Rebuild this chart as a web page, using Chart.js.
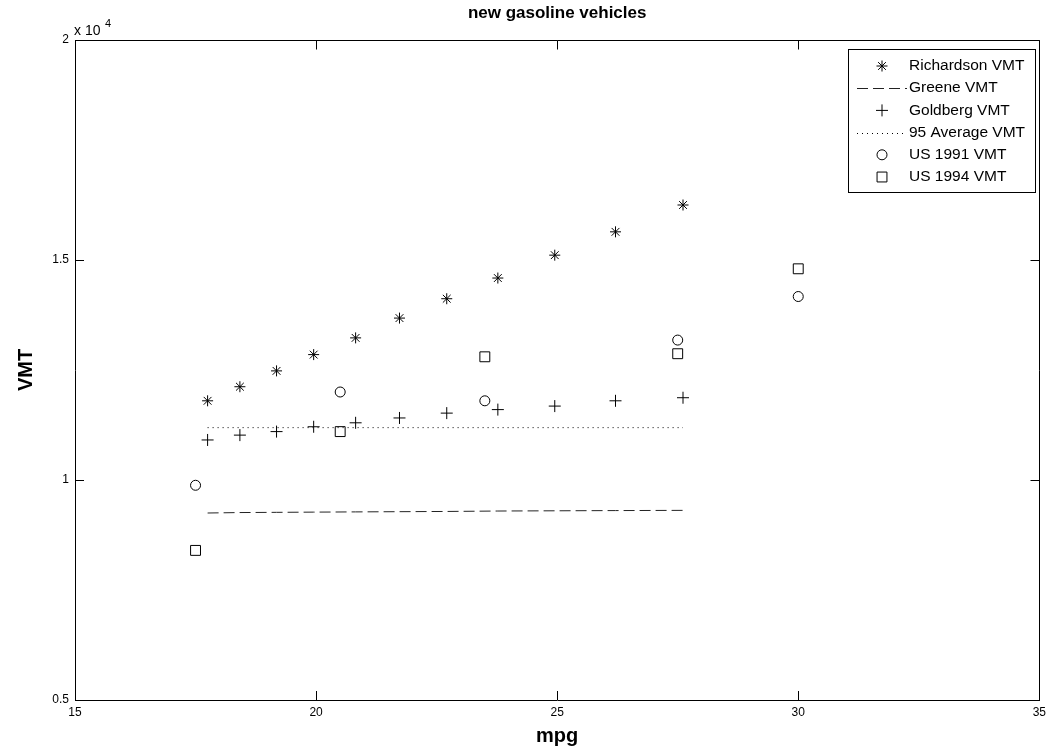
<!DOCTYPE html>
<html lang="en">
<head>
  <meta charset="UTF-8">
  <title>new gasoline vehicles</title>
  <style>
    body { margin: 0; padding: 0; background: #fff; }
    #chart-container { width: 1051px; height: 754px; }
    canvas { display: block; }
  </style>
  <script src="https://cdn.jsdelivr.net/npm/chart.js"></script>
</head>
<body>
  <div id="chart-container">
    <canvas id="vmtChart"></canvas>
  </div>

  <script>
    // values
    const mpgSeries = [17.75, 18.42, 19.18, 19.95, 20.82, 21.73, 22.71, 23.77, 24.95, 26.21, 27.61];
    const richardsonVMT = [11800, 12120, 12480, 12850, 13230, 13680, 14120, 14590, 15110, 15640, 16250];
    const greeneVMT = [9250, 9260, 9265, 9270, 9275, 9280, 9285, 9295, 9300, 9305, 9310];
    const goldbergVMT = [10910, 11020, 11100, 11210, 11300, 11410, 11520, 11600, 11680, 11800, 11870];
    const avgMpg = [17.75, 27.61];
    const avg95VMT = [11190, 11190];
    const usMpg = [17.5, 20.5, 23.5, 27.5, 30];
    const us1991VMT = [9880, 12000, 11800, 13180, 14170];
    const us1994VMT = [8400, 11100, 12800, 12870, 14800];
    const xTicks = [15, 20, 25, 30, 35];
    const yTicks = [5000, 10000, 15000, 20000];

    const pts = (xs, ys) => xs.map((x, i) => ({ x: x, y: ys[i] }));
    const FONT = "'Liberation Sans', Arial, sans-serif";

    // inward tick marks, box frame, title, exponent label and legend
    const matlabLook = {
      id: 'matlabLook',
      afterDraw(chart) {
        const { ctx, chartArea: a, scales } = chart;
        const px = (v) => Math.round(scales.x.getPixelForValue(v)) + 0.5;
        const py = (v) => Math.round(scales.y.getPixelForValue(v)) + 0.5;
        const right = px(35), top = py(20000);
        ctx.save();
        ctx.strokeStyle = '#000';
        ctx.lineWidth = 1;
        ctx.beginPath();
        ctx.moveTo(a.left, top); ctx.lineTo(right, top);
        ctx.moveTo(right, top); ctx.lineTo(right, a.bottom);
        xTicks.forEach(v => {
          const x = px(v);
          ctx.moveTo(x, a.bottom); ctx.lineTo(x, a.bottom - 9);
          ctx.moveTo(x, top); ctx.lineTo(x, top + 9);
        });
        yTicks.forEach(v => {
          const y = py(v);
          ctx.moveTo(a.left, y); ctx.lineTo(a.left + 9, y);
          ctx.moveTo(right, y); ctx.lineTo(right - 9, y);
        });
        ctx.stroke();

        // title
        ctx.fillStyle = '#000';
        ctx.textAlign = 'center';
        ctx.textBaseline = 'middle';
        ctx.font = 'bold 17px ' + FONT;
        ctx.fillText('new gasoline vehicles', (a.left + a.right) / 2, 13);

        // x 10^4
        ctx.textAlign = 'left';
        ctx.textBaseline = 'alphabetic';
        ctx.font = '14px ' + FONT;
        ctx.fillText('x 10', a.left - 1, 35);
        ctx.font = '11px ' + FONT;
        ctx.fillText('4', a.left + 30, 27);

        // legend
        const lx = 848, ly = 49, lw = 187, lh = 143;
        ctx.fillStyle = '#fff';
        ctx.fillRect(lx, ly, lw, lh);
        ctx.strokeRect(lx + 0.5, ly + 0.5, lw, lh);
        ctx.font = '15.5px ' + FONT;
        ctx.textBaseline = 'middle';
        chart.data.datasets.forEach((ds, i) => {
          const y = ly + 17 + i * 22.2;
          if (ds.showLine) {
            ctx.save();
            ctx.strokeStyle = ds.borderColor;
            ctx.setLineDash(ds.borderDash || []);
            ctx.beginPath();
            ctx.moveTo(lx + 9, Math.round(y) + 0.5);
            ctx.lineTo(lx + 59, Math.round(y) + 0.5);
            ctx.stroke();
            ctx.restore();
          } else {
            ctx.save();
            ctx.strokeStyle = '#000';
            ctx.fillStyle = ds.backgroundColor;
            ctx.lineWidth = 1;
            Chart.helpers.drawPoint(ctx, {
              pointStyle: ds.pointStyle, radius: ds.pointRadius, borderWidth: 1, rotation: 0
            }, lx + 34, y);
            ctx.restore();
          }
          ctx.fillStyle = '#000';
          ctx.fillText(ds.label, lx + 61, y);
        });
        ctx.restore();
      }
    };

    const ctx = document.getElementById('vmtChart').getContext('2d');
    const vmtChart = new Chart(ctx, {
      type: 'scatter',
      data: {
        datasets: [
          { label: 'Richardson VMT', data: pts(mpgSeries, richardsonVMT), pointStyle: 'star', pointRadius: 5.5, borderColor: '#000', backgroundColor: '#000', borderWidth: 1, showLine: false },
          { label: 'Greene VMT', data: pts(mpgSeries, greeneVMT), showLine: true, pointRadius: 0, borderColor: '#222', borderWidth: 1, borderDash: [11, 5] },
          { label: 'Goldberg VMT', data: pts(mpgSeries, goldbergVMT), pointStyle: 'cross', pointRadius: 6, borderColor: '#000', backgroundColor: '#000', borderWidth: 1, showLine: false },
          { label: '95 Average VMT', data: pts(avgMpg, avg95VMT), showLine: true, pointRadius: 0, borderColor: '#000', borderWidth: 1, borderDash: [1, 4] },
          { label: 'US 1991 VMT', data: pts(usMpg, us1991VMT), pointStyle: 'circle', pointRadius: 5, borderColor: '#000', backgroundColor: 'rgba(0,0,0,0)', borderWidth: 1, showLine: false },
          { label: 'US 1994 VMT', data: pts(usMpg, us1994VMT), pointStyle: 'rect', pointRadius: 7, borderColor: '#000', backgroundColor: 'rgba(0,0,0,0)', borderWidth: 1, showLine: false }
        ]
      },
      options: {
        responsive: true,
        maintainAspectRatio: false,
        animation: false,
        layout: { padding: { top: 40, right: 10, left: 0, bottom: 0 } },
        plugins: { legend: { display: false }, tooltip: { enabled: false } },
        scales: {
          x: {
            type: 'linear', min: 15, max: 35,
            afterFit: (s) => { s.height = 54; },
            afterBuildTicks: (s) => { s.ticks = xTicks.map(v => ({ value: v })); },
            grid: { display: false, drawTicks: false },
            border: { display: true, color: '#000', width: 1 },
            ticks: { padding: 5, color: '#000', font: { family: FONT, size: 12 }, maxRotation: 0 },
            title: { display: true, text: 'mpg', color: '#000', font: { family: FONT, size: 20, weight: 'bold' }, padding: { top: 2, bottom: 6 } }
          },
          y: {
            type: 'linear', min: 5000, max: 20000,
            afterFit: (s) => { s.width = 75; },
            afterBuildTicks: (s) => { s.ticks = yTicks.map(v => ({ value: v })); },
            grid: { display: false, drawTicks: false },
            border: { display: true, color: '#000', width: 1 },
            ticks: { padding: 6, color: '#000', font: { family: FONT, size: 12 }, callback: (v) => String(v / 10000) },
            title: { display: true, text: 'VMT', color: '#000', font: { family: FONT, size: 20, weight: 'bold' }, padding: { top: 14, bottom: 0 } }
          }
        }
      },
      plugins: [matlabLook]
    });
  </script>
</body>
</html>
